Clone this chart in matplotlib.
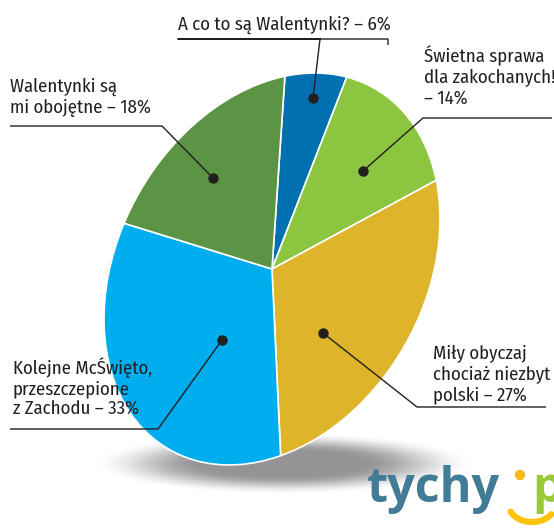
import numpy as np
import matplotlib
matplotlib.use("Agg")
import matplotlib.pyplot as plt
from matplotlib.transforms import Affine2D
from matplotlib.patches import Circle

# survey answers (clockwise from the top)
answers = ["A co to są Walentynki?", "Świetna sprawa dla zakochanych!", "Miły obyczaj chociaż niezbyt polski",
           "Kolejne McŚwięto, przeszczepione z Zachodu", "Walentynki są mi obojętne"]
shares = [6, 14, 27, 33, 18]
colors = ["#0070b0", "#8cc540", "#deb42a", "#00aeef", "#5c9445"]

# label texts as printed on the picture
label_texts = [
    "A co to są Walentynki? – 6%",
    "Świetna sprawa\ndla zakochanych!\n– 14%",
    "Miły obyczaj\nchociaż niezbyt\npolski – 27%",
    "Kolejne McŚwięto,\nprzeszczepione\nz Zachodu – 33%",
    "Walentynki są\nmi obojętne – 18%",
]

plt.rcParams['font.family'] = ['Fira Sans Condensed', 'DejaVu Sans']
TXT = "#231f20"

fig = plt.figure(figsize=(5.54, 5.28), dpi=100)
ax = fig.add_axes([0, 0, 1, 1])

# soft floor shadow under the pie
yy, xx = np.mgrid[0:528, 0:554]
d = np.sqrt(((xx - 283) / 192.0) ** 2 + ((yy - 463) / 31.0) ** 2)
a = np.clip((1.0 - d) / 0.6, 0, 1)
a = a * a * (3 - 2 * a) * 0.7
shadow = np.zeros((528, 554, 4))
shadow[..., 0] = 0.40
shadow[..., 1] = 0.40
shadow[..., 2] = 0.42
shadow[..., 3] = a
ax.imshow(shadow, extent=(0, 554, 528, 0), zorder=0, interpolation="bilinear")

# pie drawn on a unit circle, then tilted into the perspective ellipse
wedges, _ = ax.pie(shares, colors=colors, startangle=85.6, counterclock=False,
                   wedgeprops=dict(edgecolor="white", linewidth=1.2))
tilt = Affine2D(np.array([[168.0, 0.0, 272.0],
                          [-50.0, -189.5, 269.0],
                          [0.0, 0.0, 1.0]])) + ax.transData
for w in wedges:
    w.set_transform(tilt)
    w.set_zorder(2)

# labels: text anchor (baseline of the last line), dot, leader polyline
text_pos = [(178, 30), (424, 104), (433, 400), (13, 415), (10, 113)]
dots = [(313, 98), (363, 171), (323, 333), (222, 340), (213, 178)]
leaders = [
    [(313, 98), (320, 39), (178, 39), (388, 39), (388, 45)],
    [(363, 171), (423, 118), (552, 118)],
    [(323, 333), (417, 407), (546, 407)],
    [(222, 340), (158, 429), (10, 429)],
    [(213, 178), (162, 126), (10, 126)],
]
for txt, (tx, ty), dot, path in zip(label_texts, text_pos, dots, leaders):
    ax.text(tx, ty, txt, fontsize=13.5, color=TXT, ha="left", va="baseline",
            linespacing=1.2, zorder=4)
    px, py = zip(*path)
    ax.plot(px, py, color=TXT, lw=1.0, zorder=3, solid_capstyle="butt")
    ax.plot(*dot, marker="o", ms=6.5, color=TXT, zorder=3)

# tychy.pl logo
ax.text(367, 502, "tychy", fontsize=35, color="#417b96", fontweight="bold",
        family=["Open Sans", "DejaVu Sans"], ha="left", va="baseline", zorder=4)
ax.add_patch(Circle((520, 475), 4.5, color="#f7b818", zorder=4))
ax.text(532, 502, "p", fontsize=35, color="#9cc83c", fontweight="bold",
        family=["Open Sans", "DejaVu Sans"], ha="left", va="baseline", zorder=4)
t = np.linspace(0.2 * np.pi, 0.85 * np.pi, 40)
ax.plot(532 + 24 * np.cos(t), 503 + 19 * np.sin(t), color="#ffc20e", lw=4.5,
        solid_capstyle="round", zorder=4)

ax.set_aspect("auto")
ax.set_xlim(0, 554)
ax.set_ylim(528, 0)
ax.axis("off")

fig.savefig("out.png", dpi=100)
